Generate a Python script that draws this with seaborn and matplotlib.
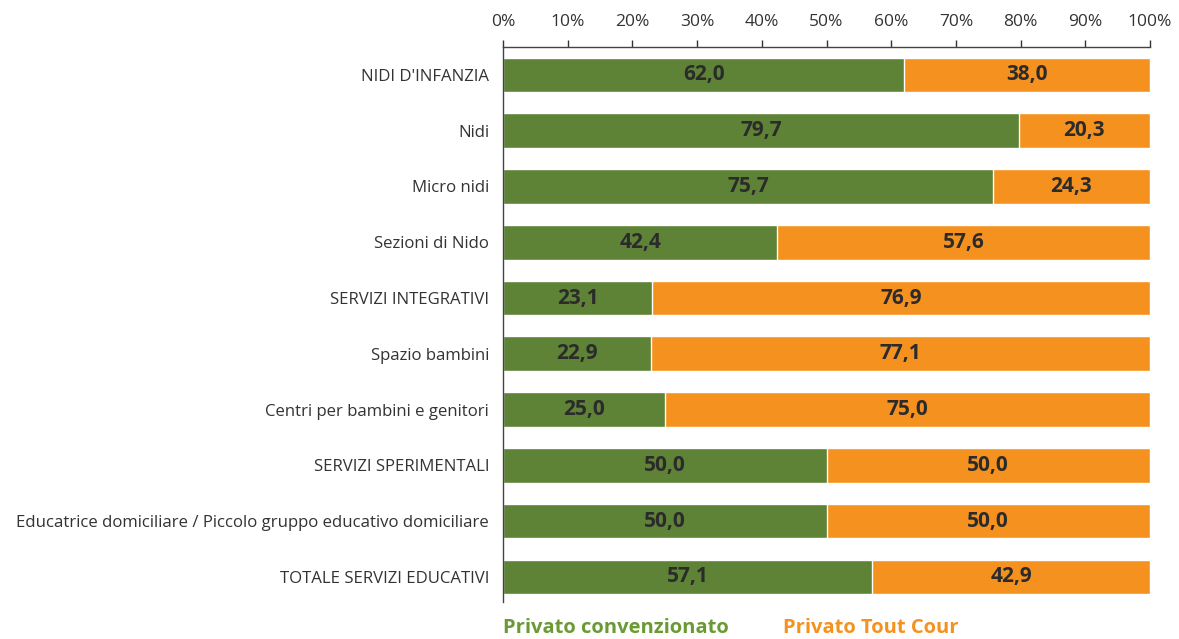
import numpy as np
import pandas as pd
import seaborn as sns
import matplotlib.pyplot as plt
from matplotlib.ticker import FuncFormatter

categories = [
    "NIDI D'INFANZIA",
    "Nidi",
    "Micro nidi",
    "Sezioni di Nido",
    "SERVIZI INTEGRATIVI",
    "Spazio bambini",
    "Centri per bambini e genitori",
    "SERVIZI SPERIMENTALI",
    "Educatrice domiciliare / Piccolo gruppo educativo domiciliare",
    "TOTALE SERVIZI EDUCATIVI",
]
convenzionato = [62.0, 79.7, 75.7, 42.4, 23.1, 22.9, 25.0, 50.0, 50.0, 57.1]
tout_cour = [38.0, 20.3, 24.3, 57.6, 76.9, 77.1, 75.0, 50.0, 50.0, 42.9]

green = "#5E8236"
orange = "#F5921F"

df = pd.DataFrame({"cat": categories, "conv": convenzionato, "tc": tout_cour})
df["total"] = df["conv"] + df["tc"]

sns.set_style("white")
plt.rcParams["font.family"] = ["Open Sans", "DejaVu Sans"]

fig = plt.figure(figsize=(11.79, 6.39), dpi=100)
ax = fig.add_axes([503 / 1179, 1 - 602 / 639, (1150 - 503) / 1179, (602 - 47) / 639])

sns.barplot(data=df, x="total", y="cat", color=orange, width=0.62,
            saturation=1, ax=ax)
sns.barplot(data=df, x="conv", y="cat", color=green, width=0.62,
            saturation=1, ax=ax)

# value labels in the middle of each segment
for i, (c, t) in enumerate(zip(df["conv"], df["tc"])):
    ax.text(c / 2, i, f"{c:.1f}".replace(".", ","), ha="center", va="center",
            fontsize=15, fontweight="bold", color="#2b2b2b")
    ax.text(c + t / 2, i, f"{t:.1f}".replace(".", ","), ha="center", va="center",
            fontsize=15, fontweight="bold", color="#2b2b2b")

ax.set_xlim(0, 100)
ax.set_ylim(9.45, -0.5)
ax.set_xlabel("")
ax.set_ylabel("")
ax.xaxis.tick_top()
ax.set_xticks(np.arange(0, 101, 10))
ax.xaxis.set_major_formatter(FuncFormatter(lambda v, p: f"{v:.0f}%"))
ax.tick_params(axis="x", top=True, length=5, width=1, color="#333333",
               labelsize=12.5, labelcolor="#333333", pad=7)
ax.tick_params(axis="y", left=False, length=0, labelsize=12.1,
               labelcolor="#333333", pad=10)
for s in ["right", "bottom"]:
    ax.spines[s].set_visible(False)
for s in ["top", "left"]:
    ax.spines[s].set_color("#444444")
    ax.spines[s].set_linewidth(1)

fig.text(503 / 1179, 1 - 628 / 639, "Privato convenzionato", color="#6B9A35",
         fontsize=14.5, fontweight="bold", va="center", ha="left")
fig.text(783 / 1179, 1 - 628 / 639, "Privato Tout Cour", color=orange,
         fontsize=14.5, fontweight="bold", va="center", ha="left")

fig.savefig("out.png", dpi=100)
